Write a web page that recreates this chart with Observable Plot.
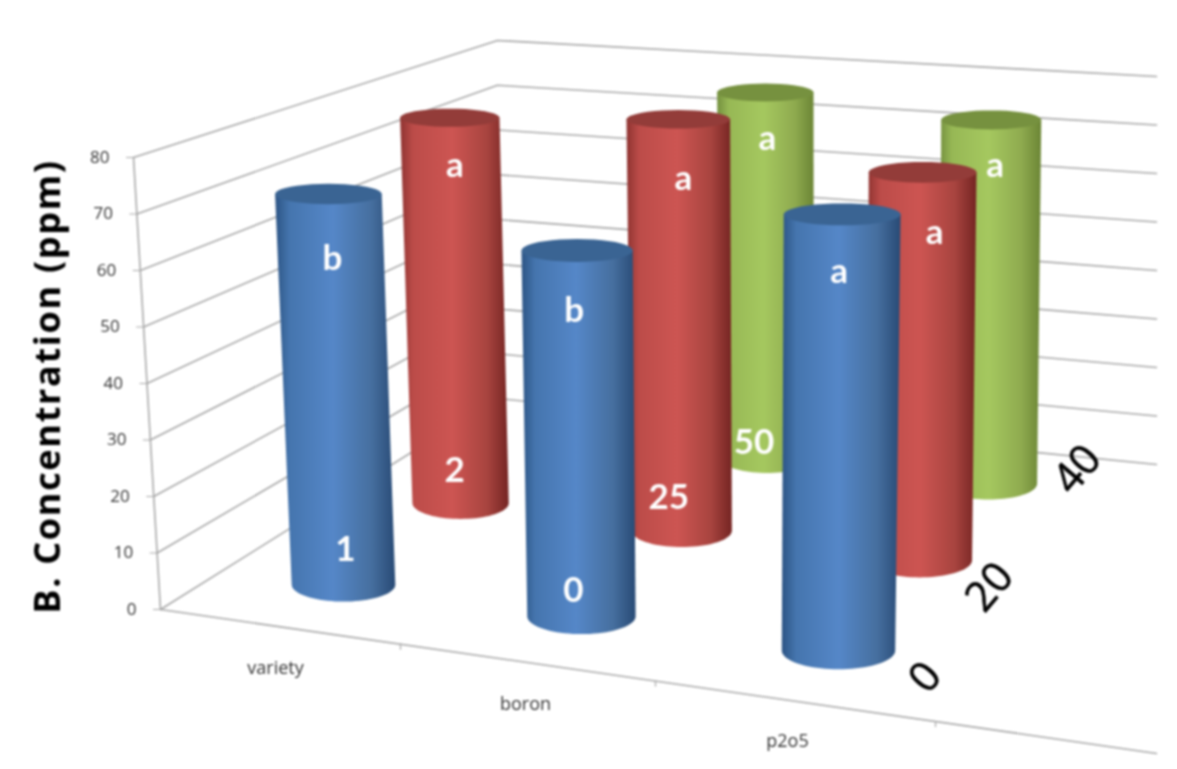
<!DOCTYPE html>
<html><head><meta charset="utf-8">
<script src="https://cdn.jsdelivr.net/npm/d3@7"></script>
<script src="https://cdn.jsdelivr.net/npm/@observablehq/plot@0.6"></script>
<style>
html,body{margin:0;padding:0;background:#fff;overflow:hidden}
#chart svg{display:block;filter:blur(0.8px)}
.ytitle text{letter-spacing:1.7px}
</style></head><body>
<svg width="0" height="0" style="position:absolute">
<defs id="defs"></defs>
</svg>
<div id="chart"></div>
<script>
// ---------- data ----------
const categories = ["variety", "boron", "p2o5"];
const depthLabels = ["0", "20", "40"];
const yTicks = [0, 10, 20, 30, 40, 50, 60, 70, 80];
const row0Values = [71, 64, 73.3];
const row1Values = [75.6, 78, 71];
const row2Values = [null, 74.6, 72];
const row0Letters = ["b", "b", "a"];
const row1Letters = ["a", "a", "a"];
const row2Letters = [null, "a", "a"];
const row0Levels = ["1", "0", null];
const row1Levels = ["2", "25", null];
const row2Levels = [null, "50", null];
const yTitle = "B. Concentration (ppm)";

// ---------- camera: maps (column, row, value) on to the page ----------
function quad(p00, p10, p11, p01) {
  const [x0,y0]=p00,[x1,y1]=p10,[x2,y2]=p11,[x3,y3]=p01;
  const dx1=x1-x2,dx2=x3-x2,sx=x0-x1+x2-x3,dy1=y1-y2,dy2=y3-y2,sy=y0-y1+y2-y3;
  const den=dx1*dy2-dx2*dy1, g=(sx*dy2-dx2*sy)/den, h=(dx1*sy-sx*dy1)/den;
  const a=x1-x0+g*x1,b=x3-x0+h*x3,d=y1-y0+g*y1,e=y3-y0+h*y3;
  return (u,v)=>{const w=g*u+h*v+1;return [(a*u+b*v+x0)/w,(d*u+e*v+y0)/w];};
}
const floorMap = quad([343,584],[838,650],[988,483],[560,433]);
const ceilMap  = quad([326,144],[842,174],[991,79],[553,53]);
const vMax = 80;
// the middle column sits a little left of the halfway point in perspective
const bend = (c, k) => c/2 - k*(1-Math.abs(c-1));
function project(c, r, v) {
  const a = floorMap(bend(c,0.008), r/2), b = ceilMap(bend(c,0.018), r/2), t = v/vMax;
  return [a[0]+(b[0]-a[0])*t, a[1]+(b[1]-a[1])*t];
}
function radiusAt(c, r, v) {
  const a = floorMap((c-0.5)/2,r/2), b = floorMap((c+0.5)/2,r/2);
  return 0.217*Math.hypot(b[0]-a[0], b[1]-a[1])*(1+0.03*v/72);
}
const flatAt = v => 0.33-0.14*v/72;

// wall landmarks: value -> page position on the three wall edges
const lerp=(a,b,t)=>[a[0]+(b[0]-a[0])*t,a[1]+(b[1]-a[1])*t];
const wallFront = v => lerp([160,609],[133,157],v/vMax);
const wallBack  = v => lerp([497,398],[497,40],v/vMax);
const wallRight = v => lerp([1156,464],[1156,76],v/vMax);
const floorStart=[160,609], floorEnd=[1156,753];
const floorTickFrac=[(400-160)/996,(655-160)/996,(935-160)/996];
const catLabelPos=[[275,668],[525,704],[787,741]];

// ---------- styles ----------
const palettes = [
  {id:"blue", edgeL:"#2c5484", mid:"#4575ae", light:"#5587c8", midR:"#466f9f", edgeR:"#284a75", top:"#3a6493"},
  {id:"red",  edgeL:"#8e3331", mid:"#bc4c49", light:"#cd5552", midR:"#a8443f", edgeR:"#742422", top:"#933c39"},
  {id:"green",edgeL:"#74903f", mid:"#97b855", light:"#a5c85f", midR:"#8fab4f", edgeR:"#6b8535", top:"#76913f"}
];
document.getElementById("defs").innerHTML = palettes.map(p=>`
<linearGradient id="g-${p.id}" x1="0" x2="1" y1="0" y2="0">
<stop offset="0" stop-color="${p.edgeL}"/><stop offset=".12" stop-color="${p.mid}"/>
<stop offset=".48" stop-color="${p.light}"/><stop offset=".8" stop-color="${p.midR}"/>
<stop offset="1" stop-color="${p.edgeR}"/></linearGradient>`).join("");

// ---------- build ----------
const rows=[
  {values:row0Values,letters:row0Letters,levels:row0Levels},
  {values:row1Values,letters:row1Letters,levels:row1Levels},
  {values:row2Values,letters:row2Letters,levels:row2Levels}
];
// small hand nudges for the text painted on the bars: [dx,dy] from top / base centre
const letterNudge=[[[4,65],[-3,60],[-3,57]],[[5,48],[5,59],[12,60]],[[0,0],[2,46],[4,46]]];
const levelNudge =[[[2,-35],[-8,-25],[0,0]],[[-6,-32],[-13,-33],[0,0]],[[0,0],[-13,-15],[0,0]]];
const depthNudge =[[87,27],[70,27],[89,-14]];

const marks=[];
const xy=(pts,o)=>Plot.line(pts,{x:d=>d[0],y:d=>d[1],...o});
const grid={stroke:"#a9a9a9",strokeWidth:1.6};

for(const v of yTicks){
  marks.push(xy([wallFront(v),wallBack(v),wallRight(v)],grid));
  const p=wallFront(v);
  marks.push(xy([p,[p[0]-7,p[1]]],{stroke:"#a9a9a9",strokeWidth:1.2}));
}
marks.push(xy([wallFront(0),wallFront(vMax)],grid));
marks.push(xy([floorStart,floorEnd],grid));
for(const f of floorTickFrac){
  const p=lerp(floorStart,floorEnd,f);
  marks.push(xy([p,[p[0],p[1]+5]],{stroke:"#a9a9a9",strokeWidth:1.2}));
}
marks.push(Plot.text(yTicks,{
  x:v=>wallFront(v)[0],y:v=>wallFront(v)[1],text:v=>String(v),
  textAnchor:"end",dx:-24,fontSize:17,fill:"#333",fontFamily:"Open Sans"}));
marks.push(Plot.text(categories,{
  x:(d,i)=>catLabelPos[i][0],y:(d,i)=>catLabelPos[i][1],text:d=>d,
  fontSize:18,fill:"#333",fontFamily:"Open Sans"}));

const ring=(c,r,v,from,to)=>{
  const o=project(c,r,v),rx=radiusAt(c,r,v),ry=rx*flatAt(v);
  return d3.range(0,41).map(i=>{const t=from+(to-from)*i/40;return [o[0]+rx*Math.cos(t),o[1]+ry*Math.sin(t)];});
};
// back row first so that nearer bars cover farther ones
for(let r=2;r>=0;r--){
  const pal=palettes[r];
  rows[r].values.forEach((v,c)=>{
    if(v==null) return;
    const bottom=ring(c,r,0,0,Math.PI);
    const t=ring(c,r,v,0,Math.PI*2);
    const body=[t[20],t[0],...bottom];
    marks.push(xy(body,{fill:`url(#g-${pal.id})`,stroke:"none",curve:"linear"}));
    marks.push(xy(t,{fill:pal.top,stroke:"none",curve:"linear"}));
  });
}
// text painted on the bars
for(let r=2;r>=0;r--){
  rows[r].values.forEach((v,c)=>{
    if(v==null) return;
    const pt=project(c,r,v),pb=project(c,r,0);
    const a=letterNudge[r][c];
    marks.push(Plot.text([rows[r].letters[c]],{x:()=>pt[0],y:()=>pt[1],text:d=>d,dx:a[0],dy:a[1],
      fill:"#fff",fontSize:35,fontWeight:700,fontFamily:"Lato"}));
    if(rows[r].levels[c]!=null){
      const b=levelNudge[r][c];
      marks.push(Plot.text([rows[r].levels[c]],{x:()=>pb[0],y:()=>pb[1],text:d=>d,dx:b[0],dy:b[1],
        fill:"#fff",fontSize:35,fontWeight:700,fontFamily:"Lato"}));
    }
  });
}
depthLabels.forEach((s,r)=>{
  const p=project(2,r,0),n=depthNudge[r];
  marks.push(Plot.text([s],{x:()=>p[0],y:()=>p[1],text:d=>d,dx:n[0],dy:n[1],rotate:-50,
    fontSize:42,fill:"#000",stroke:"#000",strokeWidth:0.6,fontFamily:"Open Sans"}));
});
marks.push(Plot.text([yTitle],{x:()=>48,y:()=>386,text:d=>d,rotate:-90,className:"ytitle",
  fontSize:36,fontWeight:700,fill:"#000",fontFamily:"Open Sans"}));

const chart=Plot.plot({
  width:1177,height:769,margin:0,
  x:{domain:[0,1177],range:[0,1177],axis:null},
  y:{domain:[0,769],range:[0,769],axis:null},
  style:{background:"transparent",overflow:"hidden"},
  marks
});
document.getElementById("chart").append(chart);
</script>
</body></html>
